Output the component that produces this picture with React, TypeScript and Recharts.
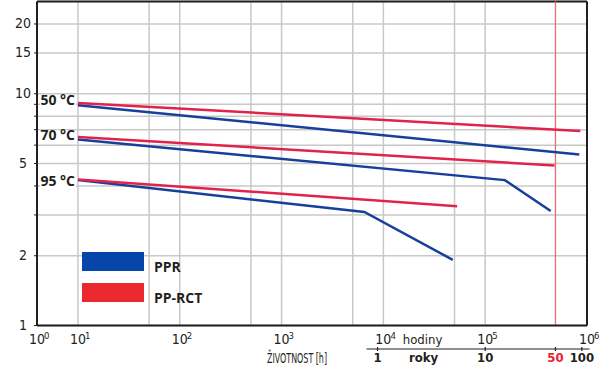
import {
  CartesianGrid,
  Label,
  Legend,
  Line,
  LineChart,
  ReferenceDot,
  ReferenceLine,
  XAxis,
  YAxis,
} from "recharts";

// hodnoty: h = životnost [h], v = napětí
const ppr50 = [
  { h: 10, v: 8.92 },
  { h: 840000, v: 5.47 },
];
const pprct50 = [
  { h: 10, v: 9.13 },
  { h: 860000, v: 6.91 },
];
const ppr70 = [
  { h: 10, v: 6.35 },
  { h: 156000, v: 4.24 },
  { h: 440000, v: 3.12 },
];
const pprct70 = [
  { h: 10, v: 6.51 },
  { h: 480000, v: 4.9 },
];
const ppr95 = [
  { h: 10, v: 4.24 },
  { h: 6500, v: 3.09 },
  { h: 48000, v: 1.92 },
];
const pprct95 = [
  { h: 10, v: 4.27 },
  { h: 53000, v: 3.27 },
];

const teploty = ["50 °C", "70 °C", "95 °C"];
const serie = ["PPR", "PP-RCT"];

const hourTicks = [3.96, 10, 50, 100, 500, 1000, 5000, 10000, 50000, 100000, 1000000];
const valueTicks = [1, 2, 3, 4, 5, 6, 7, 8, 9, 10, 15, 20];
const valueLabels = [1, 2, 5, 10, 15, 20];
const yearHours = [8760, 100000, 490000, 890000];
const yearLabels = ["1", "10", "50", "100"];
const limit50 = 490000;

const ink = "#231f20";
const blue = "#173f9b";
const red = "#e1234b";
const legendFill: Record<string, string> = { PPR: "#0745aa", "PP-RCT": "#ec282f" };
const narrow = '"Liberation Sans Narrow", "DejaVu Sans Condensed", "Roboto Condensed", sans-serif';
const sans = '"Open Sans", "Noto Sans", sans-serif';

function HourTick(props: any) {
  const { x, y, payload, index } = props;
  const exp = index === 0 ? 0 : Math.log10(payload.value);
  if (Math.abs(exp - Math.round(exp)) > 0.001) return null;
  return (
    <g>
      <text x={x} y={y + 18.5} textAnchor="middle" fontSize={14} fontFamily={narrow} fill={ink}>
        10
      </text>
      <text x={x + 7} y={y + 13} fontSize={9.5} fontFamily={narrow} fill={ink}>
        {Math.round(exp)}
      </text>
    </g>
  );
}

function YearTick(props: any) {
  const { x, y, payload } = props;
  const i = yearHours.indexOf(payload.value);
  const label = yearLabels[i];
  return (
    <g>
      {i === 0 && (
        <>
          <line x1={x - 11} x2={x + 212} y1={y} y2={y} stroke={ink} strokeWidth={1.2} />
          <text x={x + 45} y={y - 5} textAnchor="middle" fontSize={13} fontFamily={narrow} fill={ink}>
            hodiny
          </text>
          <text x={x + 46} y={y + 13} textAnchor="middle" fontSize={13} fontWeight={700} fontFamily={narrow} fill={ink}>
            roky
          </text>
        </>
      )}
      <line x1={x} x2={x} y1={y - 2} y2={y + 2} stroke={ink} strokeWidth={1.2} />
      <text
        x={x}
        y={y + 13}
        textAnchor="middle"
        fontSize={13}
        fontWeight={700}
        fontFamily={narrow}
        fill={label === "50" ? "#e8242c" : ink}
      >
        {label}
      </text>
    </g>
  );
}

function ValueTick(props: any) {
  const { x, y, payload } = props;
  if (!valueLabels.includes(payload.value)) return null;
  return (
    <text x={x - 9} y={y + 4.5} textAnchor="middle" fontSize={14} fontFamily={narrow} fill={ink}>
      {payload.value}
    </text>
  );
}

function TempLabel({ viewBox, text, dy }: any) {
  const { x, y } = viewBox;
  return (
    <g>
      <rect x={x - 38} y={y + dy - 10} width={36} height={13} fill="#fff" />
      <text x={x - 3} y={y + dy} textAnchor="end" fontSize={14} fontWeight={700} fontFamily={sans} fill={ink}>
        {text}
      </text>
    </g>
  );
}

function LegendBox() {
  return (
    <svg width={160} height={54}>
      {serie.map((name, i) => (
        <g key={name}>
          <rect x={0} y={i * 31} width={62} height={19} fill={legendFill[name]} />
          <text x={72} y={i * 31 + 20} fontSize={14} fontWeight={700} fontFamily={sans} fill={ink}>
            {name}
          </text>
        </g>
      ))}
    </svg>
  );
}

export default function App() {
  const lineProps = {
    xAxisId: "h",
    yAxisId: "v",
    dataKey: "v",
    strokeWidth: 2.5,
    dot: false,
    isAnimationActive: false,
  };
  return (
    <div style={{ position: "absolute", left: 0, top: 0 }}>
      <LineChart width={610} height={377} margin={{ top: 1.5, right: 23, bottom: 0, left: 0 }}>
        <CartesianGrid xAxisId="h" yAxisId="v" stroke="#c8c8c8" strokeWidth={1.5} />
        <XAxis
          xAxisId="h"
          type="number"
          dataKey="h"
          scale="log"
          domain={[3.96, 1000000]}
          ticks={hourTicks}
          interval={0}
          allowDataOverflow
          height={23.5}
          tickSize={0}
          tickMargin={0}
          tickLine={false}
          tick={<HourTick />}
          axisLine={{ stroke: ink, strokeWidth: 2 }}
        />
        <XAxis
          xAxisId="r"
          type="number"
          dataKey="h"
          scale="log"
          domain={[3.96, 1000000]}
          ticks={yearHours}
          interval={0}
          allowDataOverflow
          height={28}
          tickSize={0}
          tickMargin={0}
          tickLine={false}
          axisLine={false}
          tick={<YearTick />}
        >
          <Label
            content={(p: any) => (
              <text
                x={p.viewBox.x + 260}
                y={p.viewBox.y + 14}
                textAnchor="middle"
                fontSize={13.5}
                textLength={60}
                lengthAdjust="spacingAndGlyphs"
                fontFamily={narrow}
                fill={ink}
              >
                ŽIVOTNOST [h]
              </text>
            )}
          />
        </XAxis>
        <YAxis
          yAxisId="v"
          type="number"
          scale="log"
          domain={[1, 25]}
          ticks={valueTicks}
          interval={0}
          allowDataOverflow
          width={37}
          tickSize={3}
          tick={<ValueTick />}
          tickLine={{ stroke: ink }}
          axisLine={{ stroke: ink, strokeWidth: 2 }}
        />
        <YAxis
          yAxisId="p"
          orientation="right"
          mirror
          type="number"
          scale="log"
          domain={[1, 25]}
          ticks={valueTicks}
          interval={0}
          tick={false}
          tickSize={3}
          tickLine={{ stroke: ink }}
          axisLine={{ stroke: ink, strokeWidth: 2 }}
        />
        <ReferenceLine xAxisId="h" yAxisId="v" y={25} stroke={ink} strokeWidth={2} />
        <ReferenceLine xAxisId="h" yAxisId="v" x={limit50} stroke="#ef6a6e" strokeWidth={1.3} />
        <Line {...lineProps} data={ppr50} name="PPR" stroke={blue} />
        <Line {...lineProps} data={ppr70} name="PPR" stroke={blue} />
        <Line {...lineProps} data={ppr95} name="PPR" stroke={blue} />
        <Line {...lineProps} data={pprct50} name="PP-RCT" stroke={red} />
        <Line {...lineProps} data={pprct70} name="PP-RCT" stroke={red} />
        <Line {...lineProps} data={pprct95} name="PP-RCT" stroke={red} />
        <ReferenceDot xAxisId="h" yAxisId="v" x={10} y={pprct50[0].v} r={0} label={(p: any) => <TempLabel {...p} text={teploty[0]} dy={2.5} />} />
        <ReferenceDot xAxisId="h" yAxisId="v" x={10} y={pprct70[0].v} r={0} label={(p: any) => <TempLabel {...p} text={teploty[1]} dy={3.5} />} />
        <ReferenceDot xAxisId="h" yAxisId="v" x={10} y={pprct95[0].v} r={0} label={(p: any) => <TempLabel {...p} text={teploty[2]} dy={6.5} />} />
        <Legend
          layout="horizontal"
          verticalAlign="middle"
          align="center"
          wrapperStyle={{ left: 82, top: 252, width: 160 }}
          content={() => <LegendBox />}
        />
      </LineChart>
    </div>
  );
}
